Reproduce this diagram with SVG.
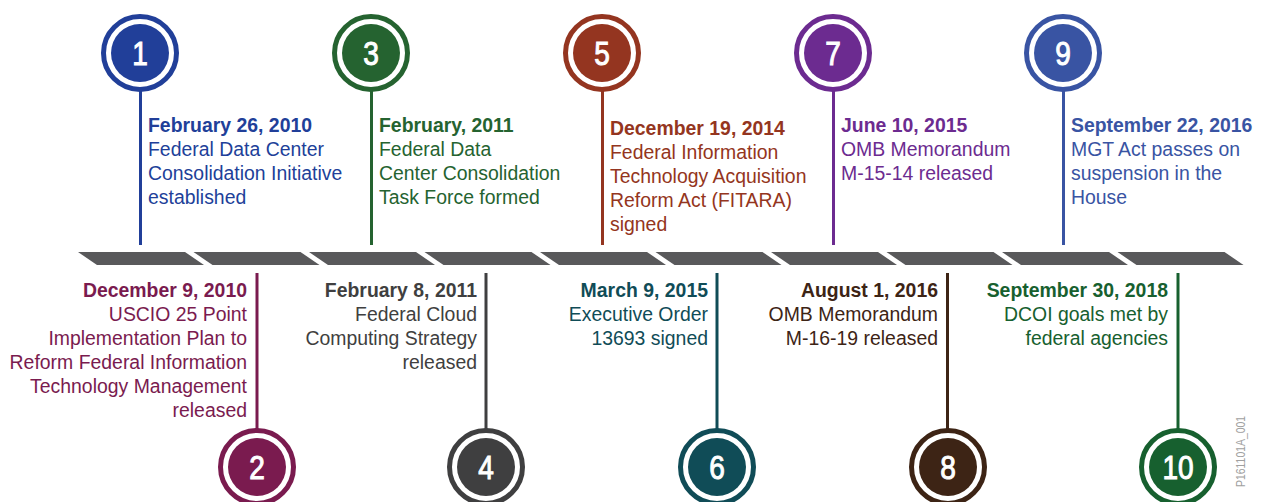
<svg xmlns="http://www.w3.org/2000/svg" width="1264" height="502" viewBox="0 0 1264 502">
<style>
.t{font-family:"Liberation Sans",Arial,sans-serif;font-size:21px}
.b{font-weight:bold}
.e{text-anchor:end}
.num{font-family:"Liberation Sans",Arial,sans-serif;font-size:33px;fill:#fff;text-anchor:middle;stroke:#fff;stroke-width:1}
.ring{fill:#fff;stroke-width:5}
.ln{stroke-width:3;fill:none}
.bar{fill:#59595b}
</style>
<rect width="1264" height="502" fill="#fff"/>
<g id="timeline">
<polygon class="bar" points="78,252 185,252 204,265 97,265"/>
<polygon class="bar" points="193.5,252 300.5,252 319.5,265 212.5,265"/>
<polygon class="bar" points="309,252 416,252 435,265 328,265"/>
<polygon class="bar" points="424.5,252 531.5,252 550.5,265 443.5,265"/>
<polygon class="bar" points="540,252 647,252 666,265 559,265"/>
<polygon class="bar" points="655.5,252 762.5,252 781.5,265 674.5,265"/>
<polygon class="bar" points="771,252 878,252 897,265 790,265"/>
<polygon class="bar" points="886.5,252 993.5,252 1012.5,265 905.5,265"/>
<polygon class="bar" points="1002,252 1109,252 1128,265 1021,265"/>
<polygon class="bar" points="1117.5,252 1224.5,252 1243.5,265 1136.5,265"/>
</g>
<g id="connectors">
<line class="ln" x1="140.5" y1="90" x2="140.5" y2="245" stroke="#213f99"/>
<line class="ln" x1="371.5" y1="90" x2="371.5" y2="245" stroke="#256330"/>
<line class="ln" x1="602.5" y1="90" x2="602.5" y2="245" stroke="#943520"/>
<line class="ln" x1="833.5" y1="90" x2="833.5" y2="245" stroke="#6c2b90"/>
<line class="ln" x1="1063.5" y1="90" x2="1063.5" y2="245" stroke="#3954a3"/>
<line class="ln" x1="257" y1="273" x2="257" y2="430" stroke="#7a1b4f"/>
<line class="ln" x1="486" y1="273" x2="486" y2="430" stroke="#3f3f40"/>
<line class="ln" x1="717" y1="273" x2="717" y2="430" stroke="#104c57"/>
<line class="ln" x1="947.5" y1="273" x2="947.5" y2="430" stroke="#3d2415"/>
<line class="ln" x1="1178" y1="273" x2="1178" y2="430" stroke="#17602f"/>
</g>
<g id="node1">
<circle cx="140" cy="53" r="36.5" class="ring" stroke="#213f99"/>
<circle cx="140" cy="53" r="29" fill="#213f99"/>
<text class="num" transform="translate(140,65) scale(0.85,1)">1</text>
<g transform="translate(148,0) scale(0.925,1)" fill="#213f99">
<text class="t b" x="0" y="132">February 26, 2010</text>
<text class="t" x="0" y="156">Federal Data Center</text>
<text class="t" x="0" y="180">Consolidation Initiative</text>
<text class="t" x="0" y="204">established</text>
</g>
</g>
<g id="node3">
<circle cx="371" cy="53" r="36.5" class="ring" stroke="#256330"/>
<circle cx="371" cy="53" r="29" fill="#256330"/>
<text class="num" transform="translate(371,65) scale(0.85,1)">3</text>
<g transform="translate(379,0) scale(0.925,1)" fill="#256330">
<text class="t b" x="0" y="132">February, 2011</text>
<text class="t" x="0" y="156">Federal Data</text>
<text class="t" x="0" y="180">Center Consolidation</text>
<text class="t" x="0" y="204">Task Force formed</text>
</g>
</g>
<g id="node5">
<circle cx="602" cy="53" r="36.5" class="ring" stroke="#943520"/>
<circle cx="602" cy="53" r="29" fill="#943520"/>
<text class="num" transform="translate(602,65) scale(0.85,1)">5</text>
<g transform="translate(610,0) scale(0.925,1)" fill="#943520">
<text class="t b" x="0" y="135">December 19, 2014</text>
<text class="t" x="0" y="159">Federal Information</text>
<text class="t" x="0" y="183">Technology Acquisition</text>
<text class="t" x="0" y="207">Reform Act (FITARA)</text>
<text class="t" x="0" y="231">signed</text>
</g>
</g>
<g id="node7">
<circle cx="833" cy="53" r="36.5" class="ring" stroke="#6c2b90"/>
<circle cx="833" cy="53" r="29" fill="#6c2b90"/>
<text class="num" transform="translate(833,65) scale(0.85,1)">7</text>
<g transform="translate(841,0) scale(0.925,1)" fill="#6c2b90">
<text class="t b" x="0" y="132">June 10, 2015</text>
<text class="t" x="0" y="156">OMB Memorandum</text>
<text class="t" x="0" y="180">M-15-14 released</text>
</g>
</g>
<g id="node9">
<circle cx="1063" cy="53" r="36.5" class="ring" stroke="#3954a3"/>
<circle cx="1063" cy="53" r="29" fill="#3954a3"/>
<text class="num" transform="translate(1063,65) scale(0.85,1)">9</text>
<g transform="translate(1071,0) scale(0.925,1)" fill="#3954a3">
<text class="t b" x="0" y="132">September 22, 2016</text>
<text class="t" x="0" y="156">MGT Act passes on</text>
<text class="t" x="0" y="180">suspension in the</text>
<text class="t" x="0" y="204">House</text>
</g>
</g>
<g id="node2">
<circle cx="257" cy="467" r="36.5" class="ring" stroke="#7a1b4f"/>
<circle cx="257" cy="467" r="29" fill="#7a1b4f"/>
<text class="num" transform="translate(257,479) scale(0.85,1)">2</text>
<g transform="translate(247,0) scale(0.925,1)" fill="#7a1b4f">
<text class="t b e" x="0" y="297">December 9, 2010</text>
<text class="t e" x="0" y="321">USCIO 25 Point</text>
<text class="t e" x="0" y="345">Implementation Plan to</text>
<text class="t e" x="0" y="369">Reform Federal Information</text>
<text class="t e" x="0" y="393">Technology Management</text>
<text class="t e" x="0" y="417">released</text>
</g>
</g>
<g id="node4">
<circle cx="486" cy="467" r="36.5" class="ring" stroke="#3f3f40"/>
<circle cx="486" cy="467" r="29" fill="#3f3f40"/>
<text class="num" transform="translate(486,479) scale(0.85,1)">4</text>
<g transform="translate(477,0) scale(0.925,1)" fill="#3f3f40">
<text class="t b e" x="0" y="297">February 8, 2011</text>
<text class="t e" x="0" y="321">Federal Cloud</text>
<text class="t e" x="0" y="345">Computing Strategy</text>
<text class="t e" x="0" y="369">released</text>
</g>
</g>
<g id="node6">
<circle cx="717" cy="467" r="36.5" class="ring" stroke="#104c57"/>
<circle cx="717" cy="467" r="29" fill="#104c57"/>
<text class="num" transform="translate(717,479) scale(0.85,1)">6</text>
<g transform="translate(708,0) scale(0.925,1)" fill="#104c57">
<text class="t b e" x="0" y="297">March 9, 2015</text>
<text class="t e" x="0" y="321">Executive Order</text>
<text class="t e" x="0" y="345">13693 signed</text>
</g>
</g>
<g id="node8">
<circle cx="948" cy="467" r="36.5" class="ring" stroke="#3d2415"/>
<circle cx="948" cy="467" r="29" fill="#3d2415"/>
<text class="num" transform="translate(948,479) scale(0.85,1)">8</text>
<g transform="translate(938,0) scale(0.925,1)" fill="#3d2415">
<text class="t b e" x="0" y="297">August 1, 2016</text>
<text class="t e" x="0" y="321">OMB Memorandum</text>
<text class="t e" x="0" y="345">M-16-19 released</text>
</g>
</g>
<g id="node10">
<circle cx="1178" cy="467" r="36.5" class="ring" stroke="#17602f"/>
<circle cx="1178" cy="467" r="29" fill="#17602f"/>
<text class="num" transform="translate(1178,479) scale(0.85,1)">10</text>
<g transform="translate(1168,0) scale(0.925,1)" fill="#17602f">
<text class="t b e" x="0" y="297">September 30, 2018</text>
<text class="t e" x="0" y="321">DCOI goals met by</text>
<text class="t e" x="0" y="345">federal agencies</text>
</g>
</g>
<text transform="translate(1245,487) rotate(-90) scale(0.87,1)" font-family="Liberation Sans, Arial, sans-serif" font-size="12" fill="#a0a0a0">P161101A_001</text>
</svg>
